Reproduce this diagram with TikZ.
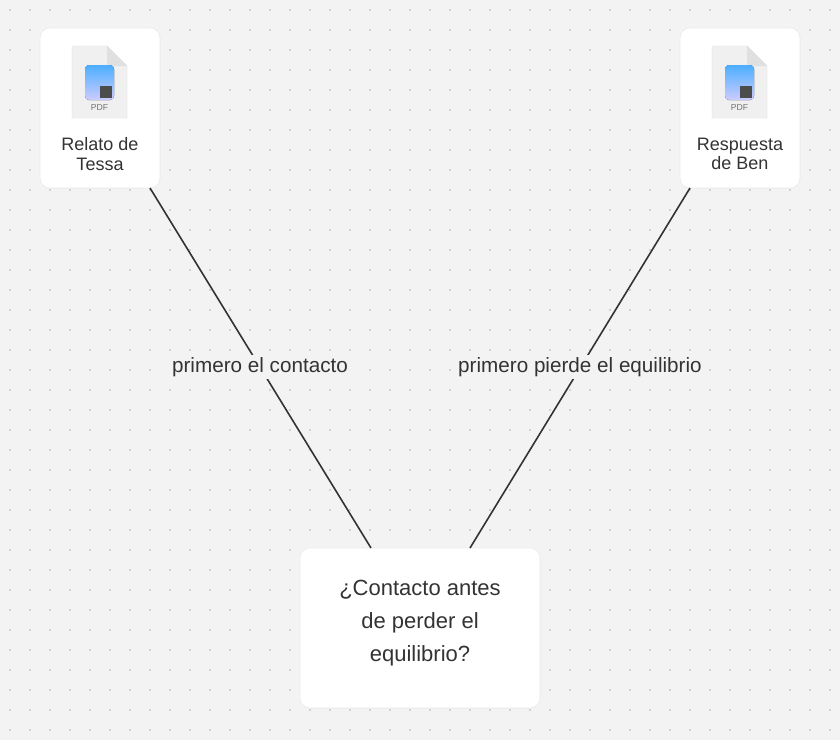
\documentclass[tikz,border=0pt]{standalone}
\usepackage{fontspec}
\setmainfont{Liberation Sans}
\usetikzlibrary{shadows}
\definecolor{bg}{HTML}{F3F3F3}
\definecolor{dotc}{HTML}{C8C8C8}
\definecolor{ln}{HTML}{333333}
\begin{document}
\begin{tikzpicture}[x=0.75pt,y=-0.75pt,
  card/.style={draw=black!8,line width=0.4pt,fill=white,rounded corners=7.5pt,drop shadow={shadow xshift=0pt,shadow yshift=0pt,opacity=0.15,fill=black!60}},
  conn/.style={draw=ln,line width=1.2pt},
  elab/.style={fill=bg,inner sep=2pt,font=\fontsize{15.5}{18}\selectfont,text=ln},
  pdficon/.pic={
    \fill[black!6,draw=black!15,line width=0.3pt] (0,0) -- (35,0) -- (55,20) -- (55,72) -- (0,72) -- cycle;
    \fill[black!12] (35,0) -- (35,20) -- (55,20) -- cycle;
    \fill[top color=blue!45!cyan!70,bottom color=blue!20!white,rounded corners=3pt] (13,19) rectangle (42,54);
    \fill[black!70] (28,40) rectangle (40,52);
    \node[font=\fontsize{6.5}{7}\selectfont,text=black!55] at (27.5,62) {PDF};
  }]
\useasboundingbox (0,0) rectangle (840,740);
\fill[bg] (0,0) rectangle (840,740);
\foreach \i in {0,...,42}{\foreach \j in {0,...,37}{\fill[dotc] (\i*20+10,\j*20+10) circle (0.9pt);}}
\node[card,minimum width=90pt,minimum height=120pt] (tessa) at (100,108) {};
\node[card,minimum width=90pt,minimum height=120pt] (ben) at (740,108) {};
\node[card,minimum width=180pt,minimum height=120pt] (q) at (420,628) {};
\pic at (72,46) {pdficon};
\pic at (712,46) {pdficon};
\node[align=center,font=\fontsize{13.5}{14.5}\selectfont,text=ln] (t1) at (100,154) {Relato de\\Tessa};
\node[align=center,font=\fontsize{13.5}{14.5}\selectfont,text=ln] (t2) at (740,154) {Respuesta\\de Ben};
\node[align=center,font=\fontsize{16.5}{25}\selectfont,text=ln] (t3) at (420,623) {¿Contacto antes\\de perder el\\equilibrio?};
\coordinate (a1) at (150,188); \coordinate (a2) at (371,548);
\coordinate (b1) at (690,188); \coordinate (b2) at (470,548);
\draw[conn] (a1) -- (a2);
\draw[conn] (b1) -- (b2);
\node[elab] (l1) at (260,367) {primero el contacto};
\node[elab] (l2) at (580,367) {primero pierde el equilibrio};
\end{tikzpicture}
\end{document}
